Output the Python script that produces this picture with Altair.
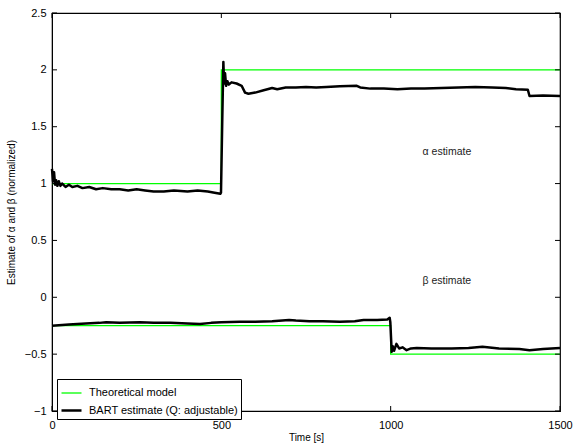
import altair as alt
import pandas as pd

# ---- data ----
S_THEO = "Theoretical model"
S_EST = "BART estimate (Q: adjustable)"

theo_alpha_t = [0, 500, 500, 1500]
theo_alpha_v = [1.0, 1.0, 2.0, 2.0]
theo_beta_t = [0, 1000, 1000, 1500]
theo_beta_v = [-0.25, -0.25, -0.5, -0.5]

est_alpha_t = [0, 3, 6, 9, 12, 16, 20, 25, 30, 40, 50, 60, 75, 90, 110, 130, 150, 175,
               200, 225, 250, 275, 300, 330, 360, 380, 400, 430, 460, 480, 497, 499,
               503, 506, 508, 511, 514, 518, 522, 530, 545, 560, 570, 580, 600, 625,
               650, 665, 690, 720, 750, 780, 810, 850, 900, 910, 940, 980, 1020, 1060,
               1100, 1150, 1200, 1250, 1300, 1340, 1370, 1405, 1410, 1450, 1500]
est_alpha_v = [1.13, 1.02, 1.10, 0.99, 1.03, 0.98, 1.02, 0.98, 1.00, 0.97, 0.99, 0.97,
               0.98, 0.96, 0.97, 0.95, 0.96, 0.95, 0.95, 0.94, 0.95, 0.94, 0.93, 0.93,
               0.94, 0.935, 0.93, 0.94, 0.93, 0.92, 0.91, 0.92,
               1.60, 2.07, 1.88, 1.97, 1.86, 1.90, 1.87, 1.89, 1.88, 1.86, 1.80, 1.79,
               1.80, 1.82, 1.84, 1.83, 1.845, 1.845, 1.85, 1.845, 1.85, 1.855, 1.86,
               1.845, 1.835, 1.835, 1.83, 1.835, 1.835, 1.84, 1.845, 1.85, 1.845,
               1.84, 1.83, 1.825, 1.77, 1.775, 1.77]

est_beta_t = [0, 20, 50, 100, 140, 160, 200, 260, 300, 350, 400, 437, 470, 500, 555,
              600, 650, 700, 720, 760, 800, 850, 894, 920, 960, 990, 997, 999, 1001,
              1003, 1006, 1010, 1017, 1025, 1035, 1047, 1060, 1077, 1120, 1180, 1230,
              1271, 1320, 1380, 1410, 1450, 1500]
est_beta_v = [-0.25, -0.245, -0.24, -0.23, -0.225, -0.22, -0.225, -0.22, -0.225,
              -0.225, -0.23, -0.235, -0.225, -0.22, -0.215, -0.215, -0.21, -0.20,
              -0.205, -0.21, -0.21, -0.215, -0.21, -0.20, -0.20, -0.195, -0.18, -0.22,
              -0.35, -0.48, -0.43, -0.47, -0.41, -0.45, -0.44, -0.465, -0.45, -0.445,
              -0.45, -0.45, -0.445, -0.435, -0.45, -0.455, -0.465, -0.455, -0.445]

x_ticks = [0, 500, 1000, 1500]
y_ticks = [-1, -0.5, 0, 0.5, 1, 1.5, 2, 2.5]

annot_t = [1166, 1166]
annot_v = [1.28, 0.14]
annot_txt = ["α estimate", "β estimate"]


def build(series, group, ts, vs):
    return pd.DataFrame({"series": series, "group": group, "t": ts, "v": vs,
                         "idx": list(range(len(ts)))})


theo = pd.concat([build(S_THEO, "a", theo_alpha_t, theo_alpha_v),
                  build(S_THEO, "b", theo_beta_t, theo_beta_v)])
est = pd.concat([build(S_EST, "a", est_alpha_t, est_alpha_v),
                 build(S_EST, "b", est_beta_t, est_beta_v)])

W, H = 508, 398
FONT = "Liberation Sans"

xs = alt.Scale(domain=[0, 1500], nice=False, zero=False)
ys = alt.Scale(domain=[-1, 2.5], nice=False, zero=False)

color = alt.Color("series:N",
                  scale=alt.Scale(domain=[S_THEO, S_EST], range=["#00ff00", "#000000"]),
                  legend=alt.Legend(title=None, orient="none", legendX=5, legendY=366,
                                    symbolType="stroke", symbolSize=400,
                                    labelFont=FONT, labelFontSize=11, labelColor="black",
                                    strokeColor="black", fillColor="white",
                                    padding=3, rowPadding=1, labelOffset=6,
                                    symbolStrokeWidth=2, labelLimit=300))
swidth = alt.StrokeWidth("series:N",
                         scale=alt.Scale(domain=[S_THEO, S_EST], range=[1.3, 2.5]),
                         legend=None)

xaxis = alt.Axis(values=x_ticks, format="d", title="Time [s]", tickSize=0, labelPadding=8,
                 titlePadding=2, grid=False, labelFontSize=11, titleFontSize=10,
                 labelFont=FONT, titleFont=FONT, titleFontWeight="normal",
                 labelColor="black", titleColor="black", domainColor="black",
                 labelFlush=False)
yaxis = alt.Axis(values=y_ticks, format="~g", title="Estimate of α and β (normalized)",
                 tickSize=0, labelPadding=6, titlePadding=8, grid=False, labelFontSize=11,
                 titleFontSize=10, labelFont=FONT, titleFont=FONT,
                 titleFontWeight="normal", labelColor="black", titleColor="black",
                 domainColor="black", labelFlush=False)

theo_layer = alt.Chart(theo).mark_line(strokeCap="butt").encode(
    x=alt.X("t:Q", scale=xs, axis=xaxis),
    y=alt.Y("v:Q", scale=ys, axis=yaxis),
    color=color, strokeWidth=swidth, detail="group:N", order="idx:Q")

est_layer = alt.Chart(est).mark_line(strokeJoin="round").encode(
    x=alt.X("t:Q", scale=xs), y=alt.Y("v:Q", scale=ys),
    color=color, strokeWidth=swidth, detail="group:N", order="idx:Q")

text_layer = alt.Chart(pd.DataFrame({"t": annot_t, "v": annot_v, "txt": annot_txt})).mark_text(
    font=FONT, fontSize=10.5, color="#222222", align="center", baseline="middle").encode(
    x=alt.X("t:Q", scale=xs), y=alt.Y("v:Q", scale=ys), text="txt:N")

xt = pd.DataFrame({"t": x_ticks})
yt = pd.DataFrame({"v": y_ticks})
tick_kw = dict(color="black", strokeWidth=1)
xb = alt.Chart(xt).mark_rule(**tick_kw).encode(
    x=alt.X("t:Q", scale=xs), y=alt.value(H), y2=alt.value(H - 5))
xtop = alt.Chart(xt).mark_rule(**tick_kw).encode(
    x=alt.X("t:Q", scale=xs), y=alt.value(0), y2=alt.value(5))
yl = alt.Chart(yt).mark_rule(**tick_kw).encode(
    y=alt.Y("v:Q", scale=ys), x=alt.value(0), x2=alt.value(5))
yr = alt.Chart(yt).mark_rule(**tick_kw).encode(
    y=alt.Y("v:Q", scale=ys), x=alt.value(W), x2=alt.value(W - 5))

chart = alt.layer(theo_layer, est_layer, text_layer, xb, xtop, yl, yr).properties(
    width=W, height=H,
    autosize=alt.AutoSizeParams(type="none"),
    padding={"left": 52, "top": 13, "right": 13, "bottom": 34},
    background="white",
).configure_view(stroke="black", strokeWidth=1.2)

chart.save("out.html", embed_options={"renderer": "svg", "actions": False})
